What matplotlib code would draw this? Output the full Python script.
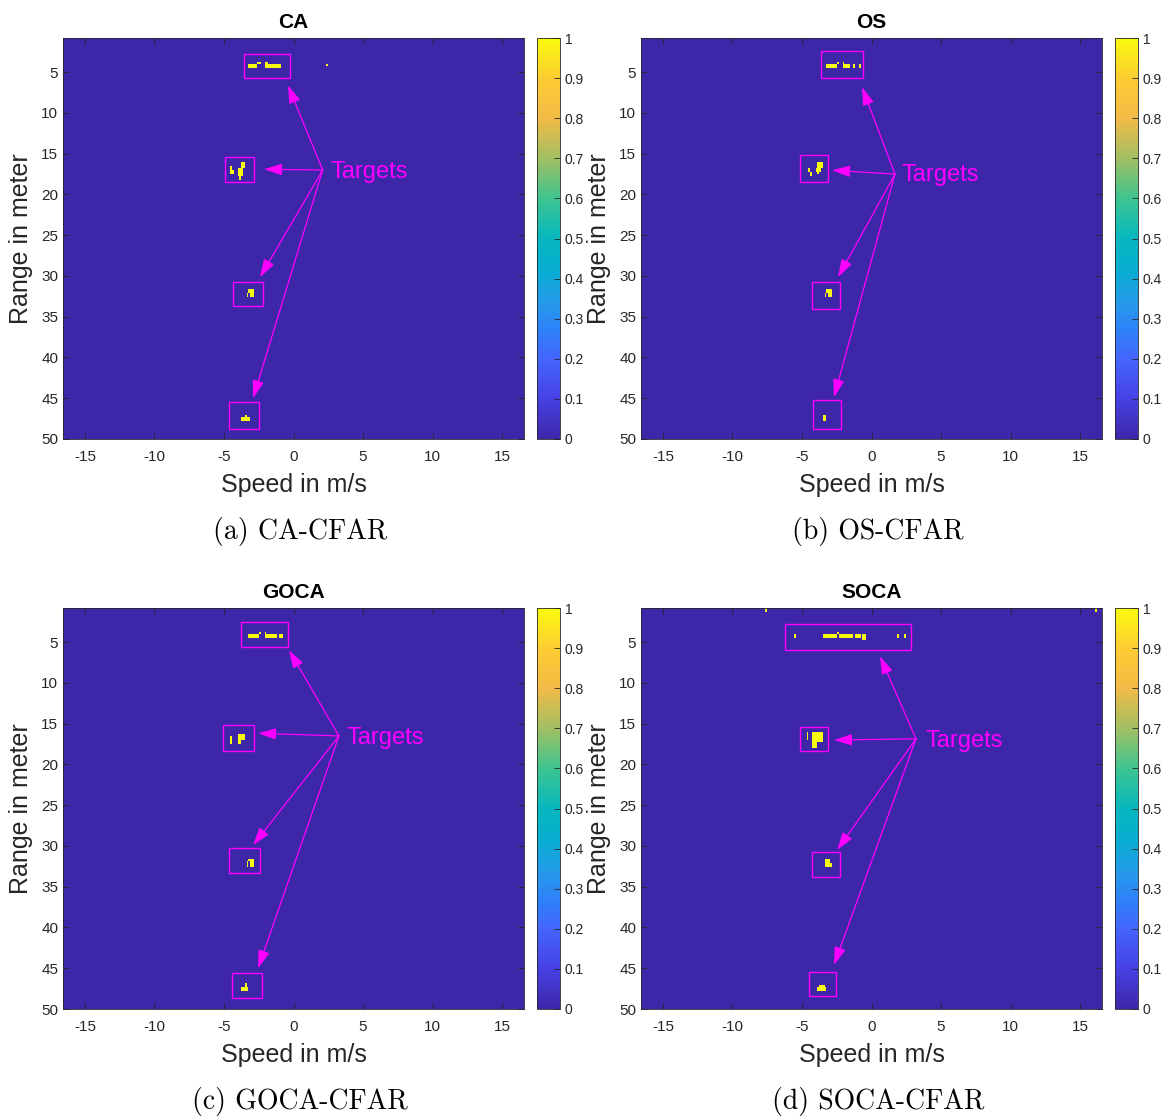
import numpy as np
import matplotlib
matplotlib.use('Agg')
import matplotlib.pyplot as plt
from matplotlib.colors import LinearSegmentedColormap
from matplotlib.patches import Rectangle

plt.rcParams['font.family'] = ['Liberation Sans', 'DejaVu Sans']
plt.rcParams['axes.unicode_minus'] = False

# range-doppler grid of the CFAR output
speed_lim = (-16.58, 16.58)
range_lim = (0.8, 50.0)
n_doppler = 256
n_range = 200

# detected cells: (speed_lo, speed_hi, range_lo, range_hi) in m/s and m
ca_hits = [
    (-3.20, -2.55, 4.00, 4.40), (-2.55, -2.34, 3.65, 4.05),
    (-2.05, -1.76, 3.65, 4.40), (-1.76, -0.90, 4.00, 4.40),
    (2.27, 2.41, 4.00, 4.35),
    (-4.50, -4.35, 16.53, 17.64), (-4.35, -4.21, 17.15, 17.64),
    (-3.78, -3.49, 16.17, 16.78), (-4.00, -3.63, 16.78, 17.88),
    (-3.92, -3.71, 17.88, 18.25),
    (-3.20, -2.91, 31.60, 31.99), (-3.35, -3.20, 31.99, 32.48),
    (-3.06, -2.91, 31.99, 32.48),
    (-3.78, -3.13, 47.40, 47.82), (-3.56, -3.35, 47.00, 47.40),
]
os_hits = [
    (-3.20, -2.48, 3.95, 4.40), (-2.48, -2.34, 3.65, 4.00),
    (-2.05, -1.91, 3.65, 4.40), (-1.91, -1.55, 4.00, 4.40),
    (-1.33, -1.19, 4.00, 4.40), (-0.97, -0.83, 4.00, 4.40),
    (-4.57, -4.35, 16.90, 17.39), (-4.35, -4.21, 17.27, 17.76),
    (-3.85, -3.56, 16.17, 16.78), (-4.00, -3.63, 16.78, 17.39),
    (-3.92, -3.78, 17.39, 17.64),
    (-3.20, -2.84, 31.50, 31.99), (-3.42, -3.20, 31.99, 32.48),
    (-3.06, -2.84, 31.99, 32.48),
    (-3.49, -3.27, 46.96, 47.33), (-3.56, -3.20, 47.33, 47.82),
]
goca_hits = [
    (-3.20, -2.48, 3.90, 4.39), (-2.48, -2.27, 3.65, 4.00),
    (-2.05, -1.91, 3.65, 4.39), (-1.91, -1.12, 3.90, 4.39),
    (-1.04, -0.83, 4.00, 4.39),
    (-4.50, -4.35, 16.53, 17.64), (-4.00, -3.78, 16.41, 17.64),
    (-3.78, -3.56, 16.41, 17.15),
    (-3.27, -2.91, 31.50, 31.87), (-3.42, -3.27, 31.87, 32.60),
    (-3.13, -2.91, 31.87, 32.60),
    (-3.78, -3.20, 47.33, 47.82), (-3.56, -3.35, 46.84, 47.33),
]
soca_hits = [
    (-7.59, -7.45, 0.80, 1.20), (16.00, 16.22, 0.80, 1.20),
    (-5.58, -5.43, 3.90, 4.39), (-3.49, -3.27, 3.90, 4.39),
    (-3.20, -2.48, 3.90, 4.39), (-2.48, -2.27, 3.65, 3.95),
    (-2.27, -1.33, 3.90, 4.39), (-1.19, -0.83, 3.90, 4.39),
    (-0.61, -0.40, 3.90, 4.63), (1.83, 1.98, 3.90, 4.39),
    (2.27, 2.41, 3.90, 4.39),
    (-4.71, -4.50, 16.17, 17.03), (-4.21, -3.56, 16.17, 17.20),
    (-4.21, -3.85, 17.20, 18.00),
    (-3.35, -2.98, 31.45, 31.95), (-3.42, -2.91, 31.95, 32.50),
    (-3.92, -3.27, 47.33, 47.70), (-3.70, -3.42, 47.10, 47.33),
]

# highlighted targets: (speed_lo, speed_hi, range_lo, range_hi)
ca_boxes = [(-3.56, -0.25, 2.79, 5.74), (-4.93, -2.84, 15.43, 18.50),
            (-4.35, -2.19, 30.77, 33.71), (-4.64, -2.48, 45.49, 48.80)]
os_boxes = [(-3.63, -0.61, 2.42, 5.74), (-5.14, -3.13, 15.18, 18.50),
            (-4.28, -2.27, 30.77, 34.08), (-4.21, -2.19, 45.25, 48.80)]
goca_boxes = [(-3.78, -0.40, 2.55, 5.61), (-5.07, -2.84, 15.18, 18.37),
              (-4.64, -2.41, 30.28, 33.34), (-4.42, -2.27, 45.61, 48.68)]
soca_boxes = [(-6.22, 2.84, 2.79, 5.98), (-5.14, -3.13, 15.43, 18.37),
              (-4.28, -2.27, 30.77, 33.83), (-4.50, -2.55, 45.49, 48.44)]

# "Targets" label position and arrow tips (speed, range)
ca_label = (2.63, 17.3)
os_label = (2.19, 17.6)
goca_label = (3.78, 16.7)
soca_label = (3.92, 17.1)
ca_tail = (2.1, 17.0)
os_tail = (1.69, 17.5)
goca_tail = (3.27, 16.5)
soca_tail = (3.2, 16.85)
ca_tips = [(-0.40, 6.6), (-2.12, 16.9), (-2.41, 30.15), (-2.91, 45.0)]
os_tips = [(-0.68, 6.84), (-2.84, 17.02), (-2.41, 30.15), (-2.70, 44.88)]
goca_tips = [(-0.32, 5.98), (-2.55, 16.17), (-2.91, 29.9), (-2.55, 45.0)]
soca_tips = [(0.61, 6.72), (-2.70, 17.0), (-2.48, 30.5), (-2.70, 44.6)]

titles = ['CA', 'OS', 'GOCA', 'SOCA']
captions = ['(a) CA-CFAR', '(b) OS-CFAR', '(c) GOCA-CFAR', '(d) SOCA-CFAR']

# parula-like colormap
parula = LinearSegmentedColormap.from_list('parula', [
    (0.00, (0.2422, 0.1504, 0.6603)),
    (0.10, (0.2780, 0.2540, 0.8970)),
    (0.20, (0.2670, 0.3973, 0.9924)),
    (0.27, (0.1840, 0.5040, 0.9800)),
    (0.33, (0.1540, 0.5902, 0.9218)),
    (0.42, (0.0300, 0.6780, 0.8200)),
    (0.50, (0.0250, 0.7200, 0.7500)),
    (0.60, (0.2400, 0.7700, 0.5600)),
    (0.70, (0.6300, 0.7500, 0.3900)),
    (0.80, (0.9500, 0.7300, 0.2800)),
    (0.90, (0.9900, 0.8000, 0.2000)),
    (1.00, (0.9763, 0.9831, 0.0538)),
])


def detection_map(hits):
    ds = (speed_lim[1] - speed_lim[0]) / n_doppler
    dr = (range_lim[1] - range_lim[0]) / n_range
    sc = speed_lim[0] + ds * (np.arange(n_doppler) + 0.5)
    rc = range_lim[0] + dr * (np.arange(n_range) + 0.5)
    det = np.zeros((n_range, n_doppler))
    for s0, s1, r0, r1 in hits:
        ov_s = np.minimum(sc + ds / 2, s1) - np.maximum(sc - ds / 2, s0)
        ov_r = np.minimum(rc + dr / 2, r1) - np.maximum(rc - dr / 2, r0)
        det[np.ix_(ov_r >= dr / 2, ov_s >= ds / 2)] = 1.0
    return det


W, H = 1170, 1120
fig = plt.figure(figsize=(W / 100, H / 100), dpi=100)
gray = '#262626'

panels = [
    (ca_hits, ca_boxes, ca_label, ca_tail, ca_tips, 63, 38, 300),
    (os_hits, os_boxes, os_label, os_tail, os_tips, 641, 38, 878),
    (goca_hits, goca_boxes, goca_label, goca_tail, goca_tips, 63, 608, 300),
    (soca_hits, soca_boxes, soca_label, soca_tail, soca_tips, 641, 608, 878),
]

for k, (hits, boxes, label, tail, tips, px, py, cx) in enumerate(panels):
    ax = fig.add_axes([px / W, 1 - (py + 401) / H, 461 / W, 401 / H])
    im = ax.imshow(detection_map(hits), cmap=parula, vmin=0, vmax=1,
                   extent=[speed_lim[0], speed_lim[1], range_lim[1], range_lim[0]],
                   aspect='auto', interpolation='nearest')
    ax.set_xlim(speed_lim)
    ax.set_ylim(range_lim[1], range_lim[0])
    ax.set_xticks(np.arange(-15, 16, 5))
    ax.set_yticks(np.arange(5, 51, 5))
    ax.tick_params(direction='in', length=4, width=0.6, colors=gray, labelsize=11,
                   top=True, right=True, labelcolor=gray)
    ax.tick_params(axis='x', pad=8)
    for sp in ax.spines.values():
        sp.set_color(gray)
        sp.set_linewidth(0.6)
    ax.set_xlabel('Speed in m/s', fontsize=18, color=gray)
    ax.set_ylabel('Range in meter', fontsize=18, color=gray)
    ax.xaxis.set_label_coords(0.5, -0.086)
    ax.yaxis.set_label_coords(-0.064, 0.5)
    ax.set_title(titles[k], fontsize=15, fontweight='bold', pad=7)

    for s0, s1, r0, r1 in boxes:
        ax.add_patch(Rectangle((s0, r0), s1 - s0, r1 - r0, fill=False,
                               edgecolor='magenta', lw=1.0))
    ax.text(label[0], label[1], 'Targets', color='magenta', fontsize=17,
            ha='left', va='center')
    for tip in tips:
        ax.annotate('', xy=tip, xytext=tail,
                    arrowprops=dict(arrowstyle='-|>,head_length=1.1,head_width=0.35',
                                    color='magenta', lw=0.9, mutation_scale=10,
                                    shrinkA=0, shrinkB=0))

    cax = fig.add_axes([(px + 474) / W, 1 - (py + 401) / H, 23 / W, 401 / H])
    cb = fig.colorbar(im, cax=cax)
    cb.set_ticks(np.arange(0, 1.01, 0.1))
    cb.set_ticklabels(['0', '0.1', '0.2', '0.3', '0.4', '0.5', '0.6', '0.7',
                       '0.8', '0.9', '1'])
    cb.ax.tick_params(direction='in', length=4, width=0.6, colors=gray,
                      labelsize=10, labelcolor=gray)
    cb.outline.set_edgecolor(gray)
    cb.outline.set_linewidth(0.6)

    fig.text(cx / W, 1 - (py + 494) / H, captions[k], fontsize=20,
             family='cmr10', ha='center', va='center', color='black')

fig.savefig('out.png', dpi=100)
